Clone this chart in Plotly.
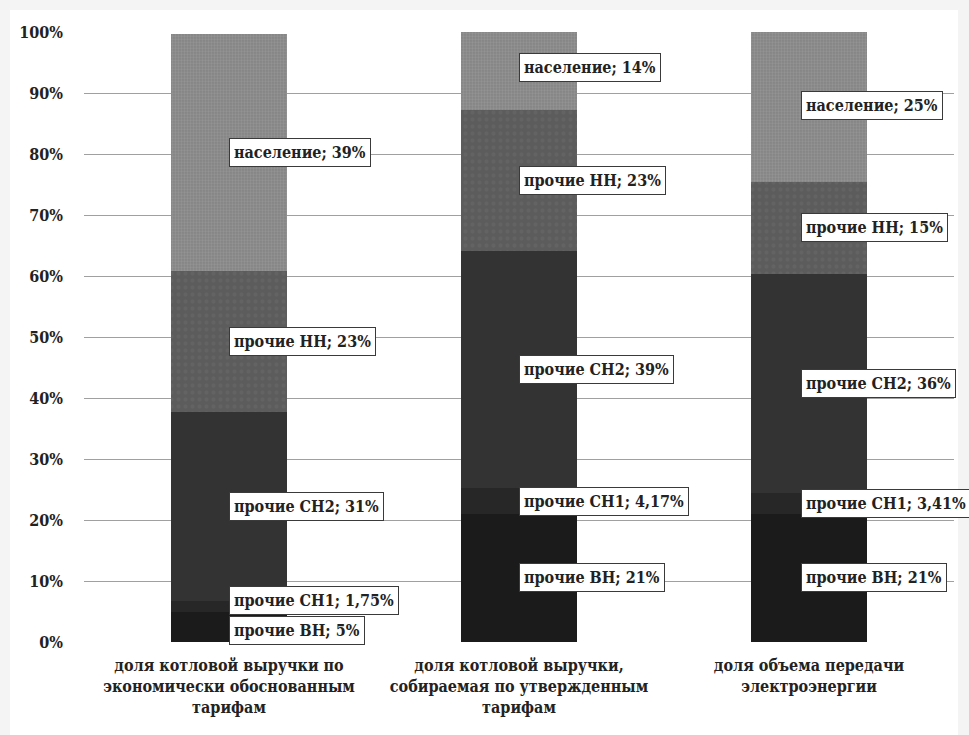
import plotly.graph_objects as go

# Categories (x axis) and stacked series values, in percent
categories = [
    "доля котловой выручки по<br>экономически обоснованным<br>тарифам",
    "доля котловой выручки,<br>собираемая по утвержденным<br>тарифам",
    "доля объема передачи<br>электроэнергии",
]
series_names = ["прочие ВН", "прочие СН1", "прочие СН2", "прочие НН", "население"]
vn = [5, 21, 21]
sn1 = [1.75, 4.17, 3.41]
sn2 = [31, 39, 36]
nn = [23, 23, 15]
population = [39, 14, 25]
value_text = {
    "прочие ВН": ["5%", "21%", "21%"],
    "прочие СН1": ["1,75%", "4,17%", "3,41%"],
    "прочие СН2": ["31%", "39%", "36%"],
    "прочие НН": ["23%", "23%", "15%"],
    "население": ["39%", "14%", "25%"],
}
y_ticks = [0, 10, 20, 30, 40, 50, 60, 70, 80, 90, 100]
y_tick_text = [f"{t}%" for t in y_ticks]

series_values = [vn, sn1, sn2, nn, population]
colors = ["#1b1b1b", "#272727", "#333333", "#5e5e5e", "#8e8e8e"]
patterns = [
    None,
    None,
    None,
    dict(shape=".", fgcolor="#6a6a6a", bgcolor="#5c5c5c", size=7, solidity=0.25),
    dict(shape=".", fgcolor="#a2a2a2", bgcolor="#848484", size=3, solidity=0.45),
]

FONT = "DejaVu Serif Condensed"
TEXT = "#222222"
fig = go.Figure()
xs = list(range(len(categories)))

for name, vals, col, pat in zip(series_names, series_values, colors, patterns):
    marker = dict(color=col, line=dict(width=0))
    if pat:
        marker["pattern"] = pat
    fig.add_trace(go.Bar(x=xs, y=vals, name=name, marker=marker, width=0.4))

# Data labels at the middle of each stacked segment
label_shift = {("прочие СН1", 0): 6, ("прочие ВН", 0): -4}
x_shift = {0: 0, 1: 0, 2: -8}
base = [0.0] * len(categories)
for name, vals in zip(series_names, series_values):
    for i, v in enumerate(vals):
        mid = base[i] + v / 2
        fig.add_annotation(
            x=i, y=mid, xref="x", yref="y",
            text=f"{name}; {value_text[name][i]}",
            showarrow=False, xanchor="left", yanchor="middle",
            xshift=x_shift[i],
            yshift=label_shift.get((name, i), 0),
            bgcolor="white", bordercolor="#3a3a3a", borderwidth=1, borderpad=4,
            font=dict(family=FONT, size=16, color=TEXT, weight="bold"),
        )
        base[i] += v

# Light frame around the chart sheet
fig.add_shape(type="rect", xref="paper", yref="paper",
              x0=-0.085, x1=1.0046, y0=-0.2, y1=1.036,
              fillcolor="white", line=dict(width=0), layer="below")

fig.update_layout(
    barmode="stack",
    width=969, height=735,
    margin=dict(l=84, r=15, t=32, b=93),
    paper_bgcolor="#f4f4f4",
    plot_bgcolor="rgba(0,0,0,0)",
    showlegend=False,
    font=dict(family=FONT, color=TEXT),
    xaxis=dict(
        tickmode="array", tickvals=xs, ticktext=categories,
        range=[-0.5, 2.5], showgrid=False, zeroline=False,
        tickfont=dict(family=FONT, size=16, color=TEXT, weight="bold"),
        ticks="", showline=False, ticklabelstandoff=12,
    ),
    yaxis=dict(
        range=[0, 100], tickmode="array", tickvals=y_ticks, ticktext=y_tick_text,
        showgrid=True, gridcolor="#a0a0a0", gridwidth=1,
        zeroline=False, showline=False, ticks="",
        tickfont=dict(family=FONT, size=16, color=TEXT, weight="bold"),
        ticklabelstandoff=20,
    ),
)

fig.write_html("out.html")
